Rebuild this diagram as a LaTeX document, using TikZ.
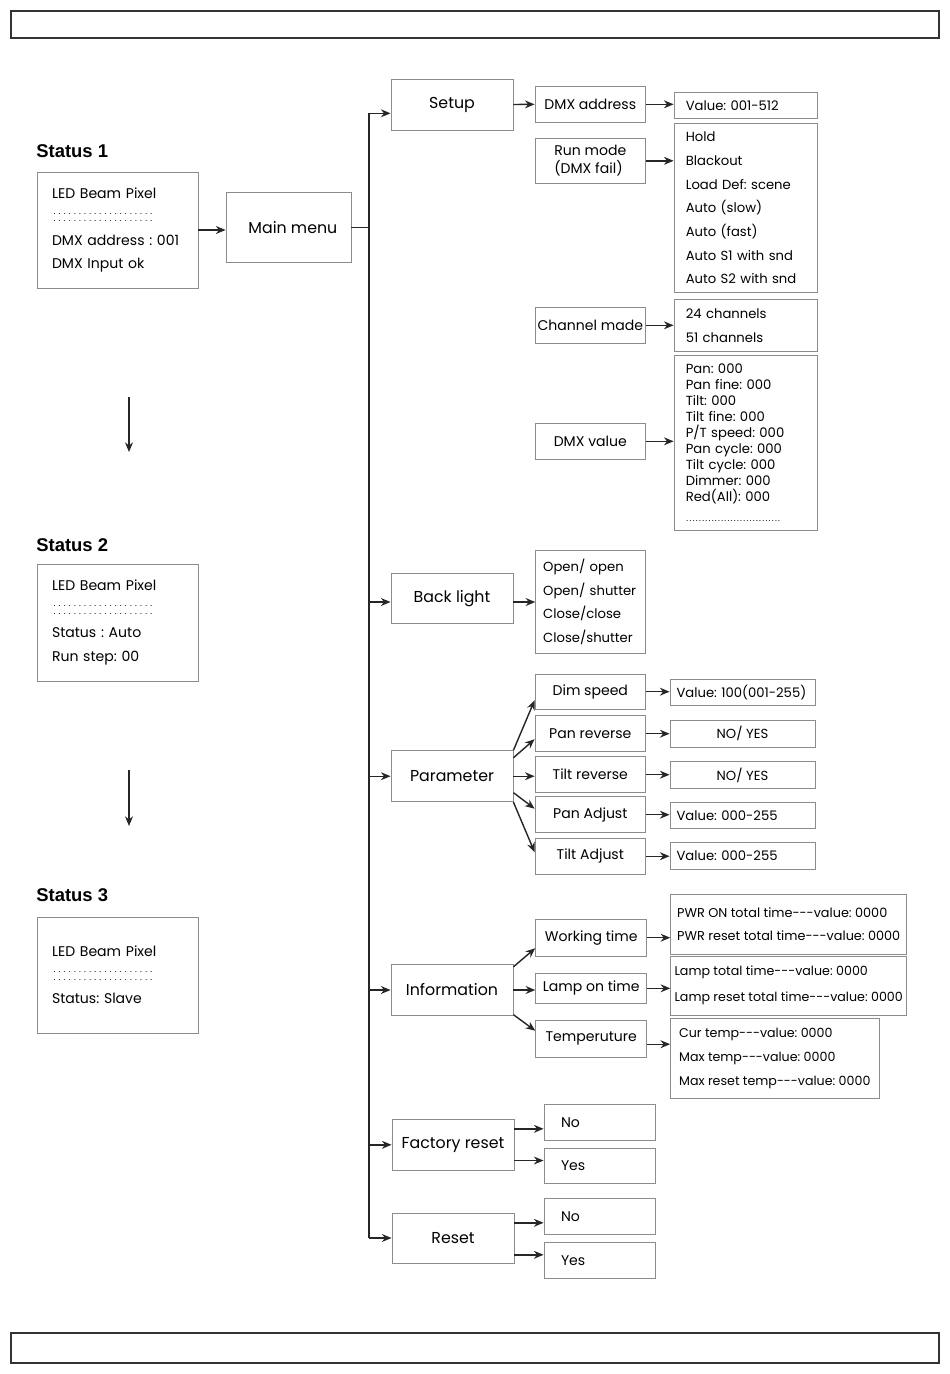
\documentclass[tikz,border=0pt]{standalone}
\usepackage{fontspec}
\setmainfont{Poppins}
\newfontfamily\statusfont{Liberation Sans}
\usetikzlibrary{arrows.meta}
\newcommand\dotrow[2]{\leavevmode\hbox to #1{\fontsize{5}{5}\selectfont\leaders\hbox to #2{\hss.\hss}\hfill}}
\newcommand\lcddots{\leavevmode\rlap{\raisebox{4.4pt}{\dotrow{58pt}{2.9pt}}}\dotrow{58pt}{2.9pt}}
\newcommand\hyp{-{}-{}-}

\begin{document}
\frenchspacing
\begin{tikzpicture}[x=0.02cm, y=-0.02cm, >={Stealth[length=5.5pt,width=4.5pt]},
    box/.style={draw=black!45, line width=0.5pt, inner sep=0pt},
    wh/.style 2 args={minimum width=#1cm, minimum height=#2cm},
    title/.style={font=\statusfont\bfseries\fontsize{10.5}{12}\selectfont, anchor=west, inner sep=0pt},
    lcd/.style={box, wh={3.22}{2.32}, text width=2.62cm, inner xsep=0.3cm, align=left, font=\fontsize{8}{13.4}\selectfont},
    menu/.style={box, wh={2.44}{1.02}, font=\fontsize{9}{11}\selectfont},
    sub/.style={box, wh={2.21}{0.72}, font=\fontsize{8}{10}\selectfont},
    opts/.style={box, align=left, text width=2.4cm, inner xsep=0.234cm, wh={2.87}{0.52}, font=\fontsize{7.5}{13.5}\selectfont},
    times/.style={box, align=left, inner xsep=0.04cm},
    val/.style={box, wh={2.9}{0.53}, font=\fontsize{7.5}{9}\selectfont},
    valleft/.style={val, text width=2.64cm, inner xsep=0.13cm, align=left},
    yesno/.style={box, wh={2.22}{0.71}, text width=1.54cm, inner xsep=0.34cm, align=left, font=\fontsize{8}{10}\selectfont},
    link/.style={->, line width=0.8pt, draw=black!85}]
    \useasboundingbox (0,0) rectangle (950,1374);

    % page frames
    \draw[line width=0.8pt, black!80] (11,11) rectangle (939,38);
    \draw[line width=0.8pt, black!80] (11,1333) rectangle (939,1363);

    % Status screens
    \node[title] (st1lbl) at (36,151) {Status 1};
    \node[lcd] (st1) at (117.5,230) {LED Beam Pixel\\\lcddots\\DMX address : 001\\DMX Input ok};
    \node[title] (st2lbl) at (36,545) {Status 2};
    \node[lcd, wh={3.22}{2.34}] (st2) at (117.5,622.5) {LED Beam Pixel\\\lcddots\\Status : Auto\\Run step: 00};
    \node[title] (st3lbl) at (36,895) {Status 3};
    \node[lcd] (st3) at (117.5,975) {LED Beam Pixel\\\lcddots\\Status: Slave};
    \coordinate (dn1a) at (129,397);
    \coordinate (dn1b) at (129,452);
    \coordinate (dn2a) at (129,770);
    \coordinate (dn2b) at (129,826);
    \draw[link] (dn1a) -- (dn1b);
    \draw[link] (dn2a) -- (dn2b);

    % Main menu and trunk
    \node[box, wh={2.5}{1.4}, font=\fontsize{9}{11}\selectfont] (mainmenu) at (288.5,227.3) {\kern5pt Main menu};
    \draw[link] (st1.east) -- (st1.east -| mainmenu.west);
    \coordinate (trunktop) at (369,113.3);
    \coordinate (trunkbot) at (369,1238);
    \draw[line width=0.8pt, black!85] (trunktop) -- (trunkbot);
    \draw[line width=0.8pt, black!85] (mainmenu.east) -- (mainmenu.east -| trunktop);

    % First level
    \node[menu] (setup) at (452,104.5) {Setup};
    \node[menu, wh={2.44}{1.0}] (backlight) at (452,598.3) {Back light};
    \node[menu] (param) at (452,776.2) {Parameter};
    \node[menu, wh={2.44}{1.03}] (info) at (452,990) {Information};
    \node[menu, wh={2.44}{1.03}] (factory) at (453,1144.8) {Factory reset};
    \node[menu, wh={2.44}{1.0}] (reset) at (453,1238) {Reset};
    \draw[link] (trunktop) -- (trunktop -| setup.west);
    \draw[link] (param.west -| trunktop) -- (param.west);
    \draw[link] (info.west -| trunktop) -- (info.west);
    \draw[link] (factory.west -| trunktop) -- (factory.west);
    \draw[link] (trunkbot) -- (trunkbot -| reset.west);

    % Setup
    \node[sub, wh={2.21}{0.73}] (dmxaddr) at (590.3,104.3) {DMX address};
    \node[opts] (addrval) at (745.8,105.3) {Value: 001-512};
    \node[sub, wh={2.21}{0.9}, align=left] (runmode) at (590.3,160.8) {Run mode\\(DMX fail)};
    \node[opts, wh={2.87}{3.39}] (runlist) at (745.8,208) {Hold\\Blackout\\Load Def: scene\\Auto (slow)\\Auto (fast)\\Auto S1 with snd\\Auto S2 with snd};
    \node[sub] (chanmode) at (590.3,325.3) {Channel made};
    \node[opts, wh={2.87}{1.05}, font=\fontsize{7.5}{13.3}\selectfont] (chanlist) at (745.8,325.5) {24 channels\\51 channels};
    \node[sub] (dmxval) at (590.3,441.3) {DMX value};
    \node[opts, wh={2.87}{3.5}, font=\fontsize{7.5}{9.1}\selectfont] (vallist) at (745.8,442.5) {Pan: 000\\Pan fine: 000\\Tilt: 000\\Tilt fine: 000\\P/T speed: 000\\Pan cycle: 000\\Tilt cycle: 000\\Dimmer: 000\\Red(All): 000\\[2pt]\dotrow{55pt}{1.8pt}};
    \draw[link] (setup.east) -- (dmxaddr.west);
    \draw[link] (dmxaddr.east) -- (dmxaddr.east -| addrval.west);
    \draw[link] (runmode.east) -- (runmode.east -| runlist.west);
    \draw[link] (chanmode.east) -- (chanmode.east -| chanlist.west);
    \draw[link] (dmxval.east) -- (dmxval.east -| vallist.west);

    % Back light
    \node[opts, wh={2.2}{2.05}, text width=1.9cm, inner xsep=0.15cm] (blist) at (590.7,602) {Open/ open\\Open/ shutter\\Close/close\\Close/shutter};
    \draw[link] (trunktop |- blist.west) -- (backlight.west |- blist.west);
    \draw[link] (backlight.east |- blist.west) -- (blist.west);

    % Parameter
    \node[sub, wh={2.21}{0.71}] (dimspeed) at (590.3,691.7) {Dim speed};
    \node[sub] (panrev) at (590.3,733.7) {Pan reverse};
    \node[sub] (tiltrev) at (590.3,774.7) {Tilt reverse};
    \node[sub] (panadj) at (590.3,814.7) {Pan Adjust};
    \node[sub] (tiltadj) at (590.3,856.2) {Tilt Adjust};
    \node[valleft] (dimval) at (742.5,692.3) {Value: 100(001-255)};
    \node[val] (panval) at (742.5,733.8) {NO/ YES};
    \node[val] (tiltval) at (742.5,775) {NO/ YES};
    \node[valleft] (panadjval) at (742.5,815.3) {Value: 000-255};
    \node[valleft] (tiltadjval) at (742.5,856) {Value: 000-255};
    \draw[link] (param.north east) -- ([yshift=-0.17cm]dimspeed.west);
    \draw[link] ([yshift=-0.15cm]param.north east) -- ([yshift=-0.11cm]panrev.west);
    \draw[link] (param.east) -- (param.east -| tiltrev.west);
    \draw[link] ([yshift=0.19cm]param.south east) -- ([yshift=0.12cm]panadj.west);
    \draw[link] (param.south east) -- ([yshift=0.08cm]tiltadj.west);
    \foreach \a/\b in {dimspeed/dimval, panrev/panval, tiltrev/tiltval, panadj/panadjval, tiltadj/tiltadjval}
        \draw[link] (\a.east) -- (\a.east -| \b.west);

    % Information
    \node[sub, wh={2.22}{0.75}] (worktime) at (591.2,937.7) {Working time};
    \node[sub, wh={2.22}{0.6}] (lamptime) at (591.2,988.3) {Lamp on time};
    \node[sub, wh={2.22}{0.75}] (temp) at (591.2,1038.7) {Temperuture};
    \node[times, wh={4.72}{1.19}, font=\fontsize{7.3}{13.3}\selectfont] (pwrlist) at (788.7,924.2) {PWR ON total time\hyp value: 0000\\PWR reset total time\hyp value: 0000};
    \node[times, wh={4.72}{1.17}, font=\fontsize{7.2}{14.8}\selectfont] (lamplist) at (788.7,985.8) {Lamp total time\hyp value: 0000\\Lamp reset total time\hyp value: 0000};
    \node[times, wh={4.17}{1.6}, font=\fontsize{7.2}{13.8}\selectfont] (templist) at (774.8,1058.3) {Cur temp\hyp value: 0000\\Max temp\hyp value: 0000\\Max reset temp\hyp value: 0000};
    \draw[link] ([yshift=-0.06cm]info.north east) -- ([yshift=-0.21cm]worktime.west);
    \draw[link] (info.east) -- (info.east -| lamptime.west);
    \draw[link] ([yshift=0.03cm]info.south east) -- ([yshift=0.16cm]temp.west);
    \draw[link] (worktime.east) -- (worktime.east -| pwrlist.west);
    \draw[link] (lamptime.east) -- (lamptime.east -| lamplist.west);
    \coordinate (tempout) at ([yshift=-0.11cm]temp.east);
    \draw[link] (tempout) -- (tempout -| templist.west);

    % Factory reset / Reset
    \node[yesno] (frno) at (599.5,1122.3) {No};
    \node[yesno] (fryes) at (599.5,1166) {Yes};
    \node[yesno] (rsno) at (599.5,1216.3) {No};
    \node[yesno] (rsyes) at (599.5,1260.3) {Yes};
    \coordinate (frnoin) at ([yshift=-0.13cm]frno.west);
    \coordinate (fryesin) at ([yshift=0.11cm]fryes.west);
    \coordinate (rsnoin) at ([yshift=-0.13cm]rsno.west);
    \coordinate (rsyesin) at ([yshift=0.11cm]rsyes.west);
    \draw[link] (factory.east |- frnoin) -- (frnoin);
    \draw[link] (factory.east |- fryesin) -- (fryesin);
    \draw[link] (reset.east |- rsnoin) -- (rsnoin);
    \draw[link] (reset.east |- rsyesin) -- (rsyesin);
\end{tikzpicture}
\end{document}
